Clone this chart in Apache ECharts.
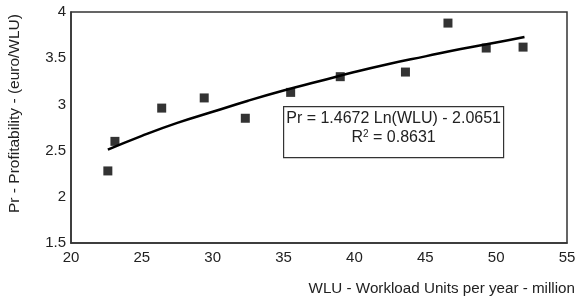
<!DOCTYPE html>
<html>
<head>
<meta charset="utf-8">
<script src="https://cdn.jsdelivr.net/npm/echarts@6/dist/echarts.min.js"></script>
<style>
  html, body { margin: 0; padding: 0; background: #fff; }
  #chart { width: 582px; height: 301px; }
</style>
</head>
<body>
<div id="chart"></div>
<script>
// observed points (WLU, Pr)
const wlu = [22.6, 23.1, 26.4, 29.4, 32.3, 35.5, 39.0, 43.6, 46.6, 49.3, 51.9];
const profit = [2.28, 2.60, 2.96, 3.07, 2.85, 3.13, 3.30, 3.35, 3.88, 3.61, 3.62];

// logarithmic trend line
const trendX = [22.6, 25, 27.5, 30, 32.5, 35, 37.5, 40, 42.5, 45, 47.5, 50, 52];
const trendY = [2.51, 2.66, 2.80, 2.92, 3.04, 3.15, 3.25, 3.35, 3.44, 3.52, 3.60, 3.67, 3.73];

const xTicks = [20, 25, 30, 35, 40, 45, 50, 55];
const yTicks = [1.5, 2, 2.5, 3, 3.5, 4];

const chart = echarts.init(document.getElementById('chart'));
const font = 'Liberation Sans, Arial, sans-serif';

const option = {
  animation: false,
  textStyle: { fontFamily: font },
  grid: {
    left: 71, right: 15, top: 12, bottom: 58,
    outerBoundsMode: 'none', containLabel: false,
    show: true, borderColor: '#333', borderWidth: 1.5
  },
  xAxis: {
    type: 'value',
    min: xTicks[0],
    max: xTicks[xTicks.length - 1],
    interval: 5,
    name: 'WLU - Workload Units per year - million',
    nameLocation: 'end',
    nameGap: 8,
    nameTextStyle: { color: '#222', fontSize: 15.2, align: 'right', verticalAlign: 'top', padding: [38, 0, 0, 0] },
    axisLine: { lineStyle: { color: '#333', width: 1.5 } },
    axisTick: { show: false },
    splitLine: { show: false },
    axisLabel: { color: '#222', fontSize: 15, margin: 7 }
  },
  yAxis: {
    type: 'value',
    min: yTicks[0],
    max: yTicks[yTicks.length - 1],
    interval: 0.5,
    name: 'Pr - Profitability - (euro/WLU)',
    nameLocation: 'middle',
    nameGap: 48,
    nameTextStyle: { color: '#222', fontSize: 15.5, padding: [0, 0, 0, 28] },
    axisLine: { show: true, lineStyle: { color: '#333', width: 1.5 } },
    axisTick: { show: false },
    splitLine: { show: false },
    axisLabel: { color: '#222', fontSize: 15, margin: 5 }
  },
  series: [
    {
      type: 'line',
      data: trendX.map((x, i) => [x, trendY[i]]),
      smooth: true,
      showSymbol: false,
      lineStyle: { color: '#000', width: 2.5 },
      z: 2
    },
    {
      type: 'scatter',
      data: wlu.map((x, i) => [x, profit[i]]),
      symbol: 'rect',
      symbolSize: 9,
      itemStyle: { color: '#000' },
      z: 3
    }
  ],
  graphic: [
    {
      type: 'group',
      left: 283,
      top: 106,
      z: 10,
      children: [
        { type: 'rect', shape: { x: 0, y: 0, width: 220, height: 51 }, style: { fill: '#fff', stroke: '#333', lineWidth: 1.2 } },
        { type: 'text', x: 110, y: 12, style: { text: 'Pr = 1.4672 Ln(WLU) - 2.0651', font: '16px ' + font, fill: '#222', align: 'center', verticalAlign: 'middle' } },
        {
          type: 'text', x: 110, y: 31,
          style: {
            text: 'R{sup|2} = 0.8631',
            font: '16px ' + font, fill: '#222', align: 'center', verticalAlign: 'middle',
            rich: { sup: { fontSize: 10, verticalAlign: 'top', padding: [0, 0, 7, 0], fill: '#222' } }
          }
        }
      ]
    }
  ]
};
chart.setOption(option);
</script>
</body>
</html>
